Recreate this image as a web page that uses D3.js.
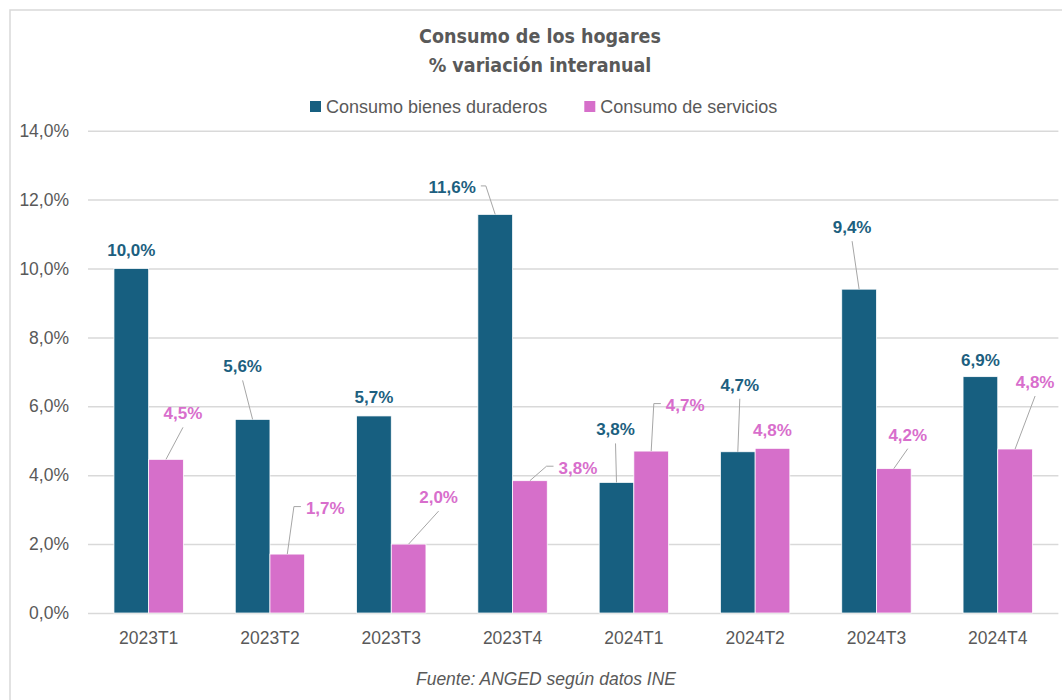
<!DOCTYPE html>
<html>
<head>
<meta charset="utf-8">
<script src="https://cdn.jsdelivr.net/npm/d3@7"></script>
<style>
  body { margin: 0; background: #fff; }
  svg { display: block; }
</style>
</head>
<body>
<div id="chart"></div>
<script>
// Data
const categories = ["2023T1", "2023T2", "2023T3", "2023T4", "2024T1", "2024T2", "2024T3", "2024T4"];
const duraderos = [10.0, 5.62, 5.72, 11.57, 3.79, 4.68, 9.40, 6.86];
const servicios = [4.46, 1.71, 2.0, 3.84, 4.70, 4.78, 4.19, 4.76];
const seriesNames = ["Consumo bienes duraderos", "Consumo de servicios"];
const yTicks = [0, 2, 4, 6, 8, 10, 12, 14];

// Label placement (px offset of label centre from top of its bar) and leader style
const duraderosLabels = [
  { dx: 0, dy: -18, leader: "none" },
  { dx: -10, dy: -53, leader: "down" },
  { dx: 0, dy: -19, leader: "none" },
  { dx: -43, dy: -27, leader: "right" },
  { dx: -1, dy: -53, leader: "down" },
  { dx: 2, dy: -67, leader: "down" },
  { dx: -7, dy: -62, leader: "down" },
  { dx: 0, dy: -17, leader: "none" }
];
const serviciosLabels = [
  { dx: 17, dy: -46, leader: "down" },
  { dx: 38, dy: -46, leader: "left" },
  { dx: 30, dy: -47, leader: "down" },
  { dx: 48, dy: -13, leader: "left" },
  { dx: 34, dy: -46, leader: "left" },
  { dx: 0, dy: -18, leader: "none" },
  { dx: 14, dy: -34, leader: "down" },
  { dx: 20, dy: -67, leader: "down" }
];

const colors = ["#175f80", "#d66fca"];
const labelColors = ["#1d5f80", "#d86ecc"];
const textGray = "#595959";
const titleFont = "'DejaVu Sans Condensed', 'Liberation Sans Narrow', sans-serif";
const bodyFont = "'Liberation Sans', Arial, sans-serif";

const width = 1062, height = 700;

const svg = d3.select("#chart")
    .append("svg")
    .attr("width", width)
    .attr("height", height);

// Outer frame
svg.append("rect")
    .attr("x", 10).attr("y", 10)
    .attr("width", 1053).attr("height", 700)
    .attr("fill", "#fff")
    .attr("stroke", "#d9d9d9")
    .attr("stroke-width", 1.5);

// Scales
const x = d3.scaleBand()
    .domain(categories)
    .range([88, 1058.4])
    .paddingInner(0.428)
    .paddingOuter(0.214);

const xSub = d3.scaleBand()
    .domain([0, 1])
    .range([0, x.bandwidth()]);

const y = d3.scaleLinear()
    .domain([0, 14])
    .range([613, 130.7]);

const locale = d3.formatLocale({ decimal: ",", thousands: ".", grouping: [3], currency: ["", "€"] });
const pct = v => locale.format(".1f")(v) + "%";

// Title
svg.append("text")
    .attr("x", 540).attr("y", 43)
    .attr("text-anchor", "middle")
    .attr("font-family", titleFont)
    .attr("font-weight", "bold")
    .attr("font-size", 19.5)
    .attr("fill", textGray)
    .text("Consumo de los hogares");

svg.append("text")
    .attr("x", 540).attr("y", 72)
    .attr("text-anchor", "middle")
    .attr("font-family", titleFont)
    .attr("font-weight", "bold")
    .attr("font-size", 19.5)
    .attr("fill", textGray)
    .text("% variación interanual");

// Legend
const legendX = [310, 584.3];
seriesNames.forEach((name, i) => {
    svg.append("rect")
        .attr("x", legendX[i]).attr("y", 101)
        .attr("width", 11).attr("height", 11)
        .attr("fill", colors[i]);
    svg.append("text")
        .attr("x", legendX[i] + 16).attr("y", 106.7)
        .attr("dy", "0.35em")
        .attr("font-family", bodyFont)
        .attr("font-size", 18)
        .attr("fill", textGray)
        .text(name);
});

// Y axis with gridlines
const yAxis = svg.append("g")
    .attr("transform", "translate(88,0)")
    .call(d3.axisLeft(y)
        .tickValues(yTicks)
        .tickFormat(pct)
        .tickSize(-970.4)
        .tickPadding(19));

yAxis.select(".domain").remove();
yAxis.selectAll(".tick line")
    .attr("stroke", "#d9d9d9")
    .attr("stroke-width", 1.5);
yAxis.selectAll(".tick text")
    .attr("font-family", bodyFont)
    .attr("font-size", 17.5)
    .attr("fill", textGray);

// X axis
const xAxis = svg.append("g")
    .attr("transform", "translate(0,613)")
    .call(d3.axisBottom(x).tickSize(0).tickPadding(19));

xAxis.select(".domain").remove();
xAxis.selectAll(".tick text")
    .attr("font-family", bodyFont)
    .attr("font-size", 17.5)
    .attr("fill", textGray);

// Bars
const series = [duraderos, servicios];
const layouts = [duraderosLabels, serviciosLabels];

series.forEach((values, s) => {
    svg.append("g")
        .selectAll("rect")
        .data(values)
        .enter().append("rect")
        .attr("x", (d, i) => x(categories[i]) + xSub(s))
        .attr("y", d => y(d))
        .attr("width", xSub.bandwidth())
        .attr("height", d => y(0) - y(d))
        .attr("fill", colors[s])
        .attr("stroke", "#ffffff")
        .attr("stroke-width", 0.75);
});

// Data labels with leader lines
const leaders = svg.append("g");
const labels = svg.append("g");

series.forEach((values, s) => {
    values.forEach((v, i) => {
        const lay = layouts[s][i];
        const bx = x(categories[i]) + xSub(s) + xSub.bandwidth() / 2;
        const by = y(v);
        const lx = bx + lay.dx;
        const ly = by + lay.dy;

        const t = labels.append("text")
            .attr("x", lx).attr("y", ly)
            .attr("dy", "0.35em")
            .attr("text-anchor", "middle")
            .attr("font-family", bodyFont)
            .attr("font-weight", "bold")
            .attr("font-size", 17)
            .attr("fill", labelColors[s])
            .text(pct(v));

        const w = t.node().getComputedTextLength();
        let pts = null;
        if (lay.leader === "down") {
            pts = [[lx, ly + 14], [bx, by]];
        } else if (lay.leader === "left") {
            const x0 = lx - w / 2 - 5;
            pts = [[x0, ly - 1.5], [x0 - 7, ly - 1.5], [bx, by]];
        } else if (lay.leader === "right") {
            const x0 = lx + w / 2 + 5;
            pts = [[x0, ly - 1.5], [x0 + 5, ly - 1.5], [bx, by]];
        }
        if (pts) {
            leaders.append("path")
                .attr("d", d3.line()(pts))
                .attr("fill", "none")
                .attr("stroke", "#a6a6a6")
                .attr("stroke-width", 1);
        }
    });
});

// Source
svg.append("text")
    .attr("x", 546).attr("y", 679.3)
    .attr("dy", "0.35em")
    .attr("text-anchor", "middle")
    .attr("font-family", bodyFont)
    .attr("font-style", "italic")
    .attr("font-size", 17.5)
    .attr("fill", textGray)
    .text("Fuente: ANGED según datos INE");
</script>
</body>
</html>
